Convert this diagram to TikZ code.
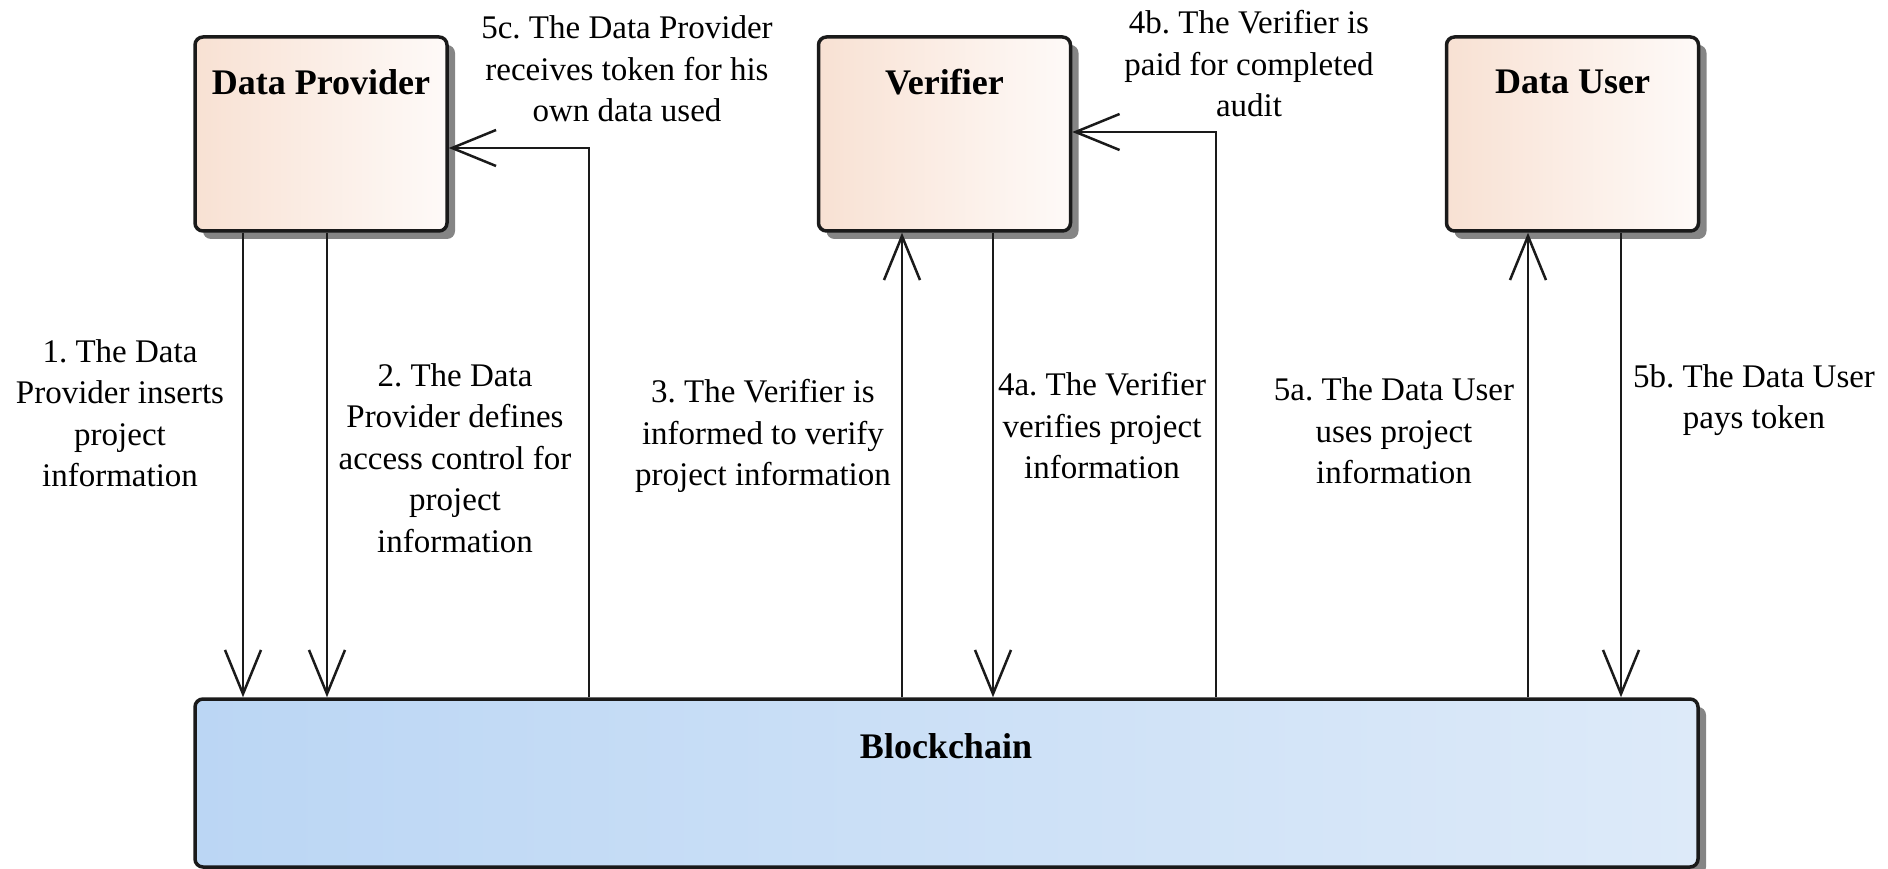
\documentclass[tikz,border=0pt]{standalone}
\usepackage{fontspec}
\setmainfont{Liberation Serif}
\usetikzlibrary{arrows.meta,shadows,calc}
\frenchspacing

\definecolor{peachL}{HTML}{F8E1D3}
\definecolor{peachR}{HTML}{FEFAF8}
\definecolor{blueL}{HTML}{BBD6F4}
\definecolor{blueR}{HTML}{DDEAF9}
\definecolor{edge}{HTML}{1A1A1A}
\definecolor{shade}{HTML}{858585}

\tikzset{
  actor/.style={draw=edge, line width=3.5pt, rounded corners=8pt,
    minimum width=252pt, minimum height=194pt, inner sep=0pt,
    left color=peachL, right color=peachR,
    general shadow={fill=shade, shadow xshift=8pt, shadow yshift=-8pt}},
  chain/.style={draw=edge, line width=3.5pt, rounded corners=8pt,
    minimum width=1503pt, minimum height=168pt, inner sep=0pt,
    left color=blueL, right color=blueR,
    general shadow={fill=shade, shadow xshift=8pt, shadow yshift=-8pt}},
  title/.style={font=\bfseries\fontsize{36}{40}\selectfont, inner sep=0pt},
  note/.style={align=center, inner sep=0pt,
    font=\fontsize{33}{41.5}\selectfont},
  flow/.style={draw=edge, line width=2.5pt,
    -{Straight Barb[length=44pt,width=36pt,line width=2.5pt]}}
}

\begin{document}
\begin{tikzpicture}[x=1pt,y=-1pt]
\useasboundingbox (0,0) rectangle (1888,869);

% participants
\node[actor] (dp)  at (321,134)   {};
\node[actor] (ver) at (944.5,134) {};
\node[actor] (du)  at (1572.5,134){};
\node[chain] (bc)  at (946.5,783) {};

\node[title] (dpt)  at (321,82)    {Data Provider};
\node[title] (vert) at (944.5,82)  {Verifier};
\node[title] (dut)  at (1572.5,82) {Data User};
\node[title] (bct)  at (946,746)   {Blockchain};

% columns and bends of the message lines
\coordinate (c1)  at (243,0);
\coordinate (c2)  at (327,0);
\coordinate (c5c) at (589,148);
\coordinate (c3)  at (902,0);
\coordinate (c4a) at (993,0);
\coordinate (c4b) at (1216,132);
\coordinate (c5a) at (1528,0);
\coordinate (c5b) at (1621,0);

% messages
\draw[flow] (dp.south -| c1) -- (bc.north -| c1);
\draw[flow] (dp.south -| c2) -- (bc.north -| c2);
\draw[flow] (bc.north -| c5c) |- (dp.east |- c5c);
\draw[flow] (bc.north -| c3) -- (ver.south -| c3);
\draw[flow] (ver.south -| c4a) -- (bc.north -| c4a);
\draw[flow] (bc.north -| c4b) |- (ver.east |- c4b);
\draw[flow] (bc.north -| c5a) -- (du.south -| c5a);
\draw[flow] (du.south -| c5b) -- (bc.north -| c5b);

% message texts
\node[note] (l1)  at (120,413)  {1. The Data\\Provider inserts\\project\\information};
\node[note] (l2)  at (455,458)  {2. The Data\\Provider defines\\access control for\\project\\information};
\node[note] (l5c) at (627,69)   {5c. The Data Provider\\receives token for his\\own data used};
\node[note] (l3)  at (763,436)  {3. The Verifier is\\informed to verify\\project information};
\node[note] (l4a) at (1102,426) {4a. The Verifier\\verifies project\\information};
\node[note] (l4b) at (1249,64)  {4b. The Verifier is\\paid for completed\\audit};
\node[note] (l5a) at (1394,431) {5a. The Data User\\uses project\\information};
\node[note] (l5b) at (1754,400) {5b. The Data User\\pays token};
\end{tikzpicture}
\end{document}
